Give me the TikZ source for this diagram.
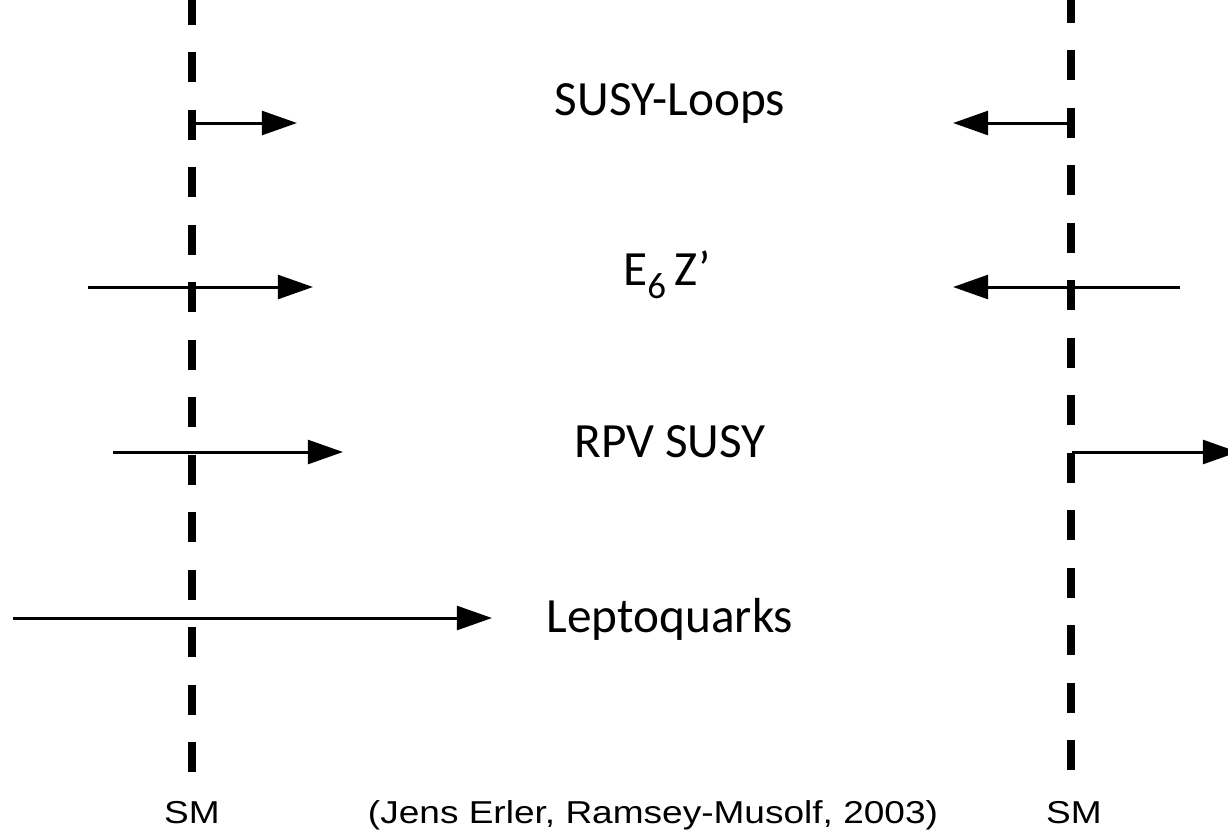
\documentclass[tikz,border=0pt]{standalone}
\usepackage{fontspec}
\setmainfont{Carlito}
\newfontfamily\creditfont[FakeStretch=1.17]{Liberation Sans}
\usetikzlibrary{arrows.meta}
\newcommand{\lowsub}[1]{\raisebox{-0.27em}{\fontsize{10.5}{12}\selectfont #1}}
\begin{document}
\begin{tikzpicture}[x=0.01cm,y=-0.01cm,
  smline/.style={line width=2.3pt, dash pattern=on 8.54pt off 7.82pt},
  bound/.style={line width=0.85pt, -{Triangle[length=10pt,width=6.8pt]}},
  modeltext/.style={font=\fontsize{14}{17}\selectfont, anchor=base, inner sep=0pt},
  credit/.style={font=\creditfont\fontsize{9}{11}\selectfont, anchor=base, inner sep=0pt}]
\clip (0,0) rectangle (1228,833);
\fill[white] (0,0) rectangle (1228,833);

% Standard Model reference lines
\coordinate (Ltop) at (192,-5.5);
\coordinate (Lbot) at (192,775);
\coordinate (Rtop) at (1071,-7.5);
\coordinate (Rbot) at (1071,775);
\draw[smline] (Ltop) -- (Lbot);
\draw[smline] (Rtop) -- (Rbot);

% SUSY loops
\coordinate (s1) at (192,123);
\coordinate (s2) at (297,123);
\coordinate (s3) at (1071,123);
\coordinate (s4) at (953,123);
\draw[bound] (s1) -- (s2);
\draw[bound] (s3) -- (s4);
\node[modeltext] (susyloops) at (670,115) {SUSY-Loops};

% E6 Z'
\coordinate (e1) at (88,287);
\coordinate (e2) at (313,287);
\coordinate (e3) at (1180,287);
\coordinate (e4) at (953,287);
\draw[bound] (e1) -- (e2);
\draw[bound] (e3) -- (e4);
\node[modeltext] (esix) at (667,285) {E\lowsub{6}\,Z’};

% RPV SUSY
\coordinate (r1) at (113,452);
\coordinate (r2) at (343,452);
\coordinate (r3) at (1072,452);
\coordinate (r4) at (1238,452);
\draw[bound] (r1) -- (r2);
\draw[bound] (r3) -- (r4);
\node[modeltext] (rpv) at (670,457) {RPV SUSY};

% Leptoquarks
\coordinate (q1) at (13,618);
\coordinate (q2) at (492,618);
\draw[bound] (q1) -- (q2);
\node[modeltext] (lq) at (670,632) {Leptoquarks};

% axis captions
\node[credit] (smleft) at (192,823) {SM};
\node[credit] (smright) at (1074,823) {SM};
\node[credit] (source) at (653,823) {(Jens Erler, Ramsey-Musolf, 2003)};
\end{tikzpicture}
\end{document}
